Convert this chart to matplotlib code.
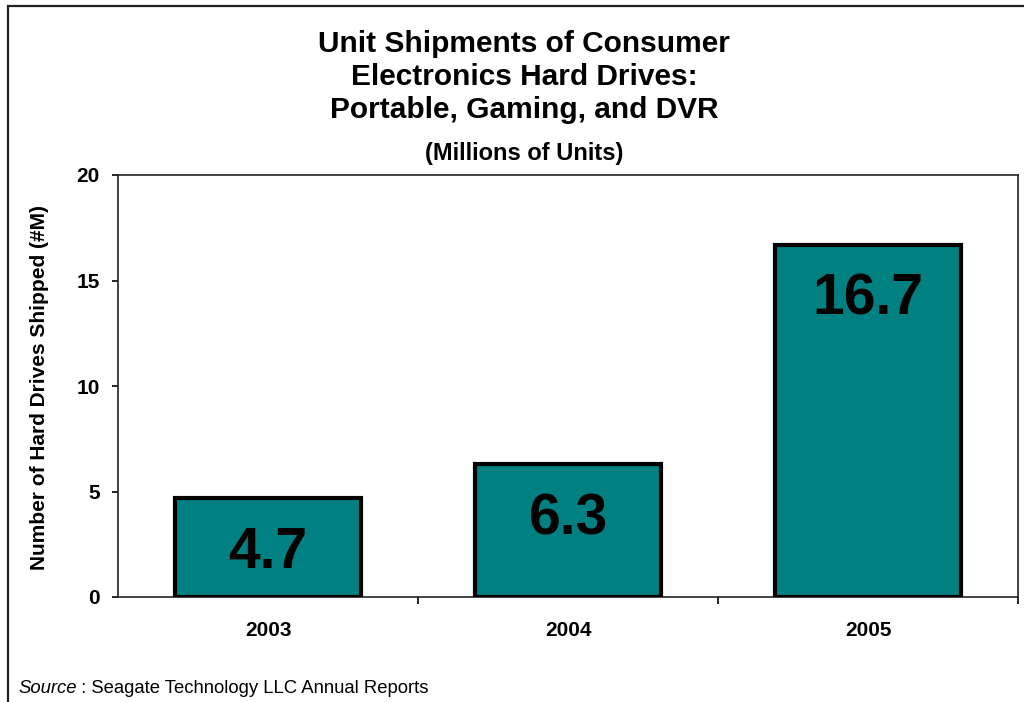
import matplotlib.pyplot as plt
from matplotlib.patches import Rectangle
import numpy as np

plt.rcParams['font.family'] = ['Liberation Sans', 'DejaVu Sans']

years = ['2003', '2004', '2005']
shipments = [4.7, 6.3, 16.7]
bar_labels = ['4.7', '6.3', '16.7']
title_lines = ['Unit Shipments of Consumer', 'Electronics Hard Drives:', 'Portable, Gaming, and DVR']

fig = plt.figure(figsize=(10.24, 7.02), dpi=100)
ax = fig.add_axes([118 / 1024, 1 - 597 / 702, 900 / 1024, 422 / 702])

x = np.arange(len(years))
ax.bar(x, shipments, width=0.62, color='#008080', edgecolor='black', linewidth=3, zorder=3)

# value labels sit inside the bars, a fixed distance below the top
for xi, v, lab in zip(x, shipments, bar_labels):
    ax.text(xi, v - 3.32, lab, ha='center', va='baseline', fontsize=41, fontweight='bold', zorder=4)

ax.set_xlim(-0.5, 2.5)
ax.set_ylim(0, 20)
ax.set_yticks([0, 5, 10, 15, 20])
ax.set_xticks(x)
ax.set_xticklabels(years, fontsize=15, fontweight='bold')
ax.set_xticks([0.5, 1.5, 2.5], minor=True)
ax.tick_params(axis='x', which='major', length=0, pad=17.5)
ax.tick_params(axis='x', which='minor', length=5, width=1.2, direction='out')
ax.tick_params(axis='y', length=4.5, width=1.2, direction='out', pad=8.6)
for t in ax.get_yticklabels():
    t.set_fontsize(15)
    t.set_fontweight('bold')
for s in ax.spines.values():
    s.set_linewidth(1.2)
    s.set_color('#222222')

fig.text(40 / 1024, 1 - 387 / 702, 'Number of Hard Drives Shipped (#M)', rotation=90,
         ha='center', va='center', fontsize=15, fontweight='bold')

for i, line in enumerate(title_lines):
    fig.text(524 / 1024, 1 - (52 + 33 * i) / 702, line, ha='center', va='baseline',
             fontsize=21.5, fontweight='bold')
fig.text(524 / 1024, 1 - 160 / 702, '(Millions of Units)', ha='center', va='baseline',
         fontsize=17, fontweight='bold')

src = fig.text(18 / 1024, 1 - 693 / 702, 'Source', ha='left', va='baseline', fontsize=13.3, style='italic')
ax.annotate(' : Seagate Technology LLC Annual Reports', xy=(1, 0), xycoords=src,
            va='bottom', ha='left', fontsize=13.3, annotation_clip=False)

# outer frame (only left and top edges show inside the picture)
fig.patches.append(Rectangle((8 / 1024, -0.1), 1.2, 1.1 - 6 / 702, transform=fig.transFigure,
                             fill=False, edgecolor='#222222', linewidth=1.6))

fig.savefig('out.png', dpi=100)
